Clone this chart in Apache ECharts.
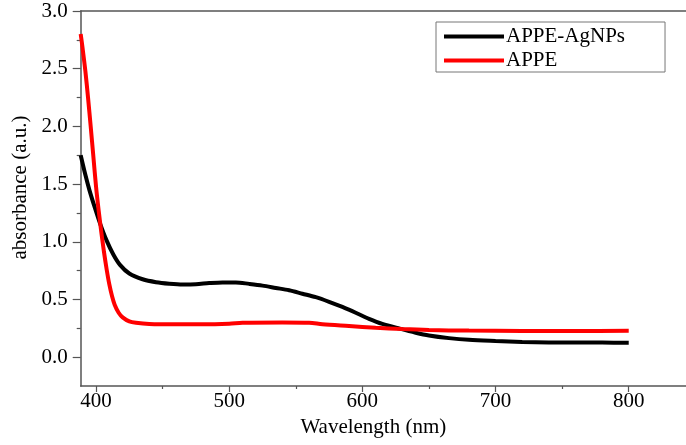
<!DOCTYPE html>
<html><head><meta charset="utf-8">
<script src="https://cdn.jsdelivr.net/npm/echarts@6/dist/echarts.min.js"></script>
<style>html,body{margin:0;padding:0;background:#fff}#c{width:686px;height:445px}</style>
</head><body><div id="c"></div>
<script>
// APPE-AgNPs (black)
const agWavelength = [388.5,392,395,399,403,408,413,418,425,435,445,455,465,475,485,495,505,515,525,535,545,555,565,575,585,595,605,615,628,640,650,665,680,700,720,740,760,780,800];
const agAbsorbance = [1.75,1.58,1.45,1.30,1.16,1.01,0.89,0.80,0.725,0.675,0.65,0.637,0.63,0.632,0.642,0.648,0.648,0.635,0.62,0.60,0.58,0.55,0.52,0.48,0.435,0.385,0.332,0.288,0.247,0.212,0.188,0.165,0.15,0.14,0.132,0.128,0.127,0.126,0.125];
// APPE (red)
const appeWavelength = [388.5,390,392,394,396,398,400,402,404,406,408,410,412,414,417,420,425,430,440,460,480,500,510,540,560,570,590,610,630,650,680,720,760,800];
const appeAbsorbance = [2.80,2.67,2.48,2.25,2.00,1.74,1.48,1.27,1.08,0.91,0.76,0.63,0.53,0.455,0.385,0.345,0.31,0.298,0.288,0.285,0.285,0.29,0.298,0.30,0.298,0.285,0.27,0.255,0.243,0.235,0.23,0.227,0.227,0.228];

const xTickLabels = [400,500,600,700,800];
const xMinorTicks = [450,550,650,750];
const yTickLabels = [0,0.5,1.0,1.5,2.0,2.5,3.0];
const yMinorTicks = [0.25,0.75,1.25,1.75,2.25,2.75];
const seriesNames = ['APPE-AgNPs','APPE'];

const FONT = "'Liberation Serif','Times New Roman',serif";
const XMIN = 388.5, XMAX = 843, YMIN = -0.25, YMAX = 3.0;
const axisColor = '#555';

const chart = echarts.init(document.getElementById('c'), null, {renderer:'canvas'});
chart.setOption({
  animation:false,
  backgroundColor:'#fff',
  grid:{left:80.7, top:11, right:0, bottom:59, containLabel:false},
  legend:{
    orient:'vertical', left:436, top:22,
    padding:[4,40,1,8], itemGap:3,
    borderColor:'#777', borderWidth:1,
    itemWidth:60, itemHeight:4, icon:'rect',
    textStyle:{fontFamily:FONT, fontSize:21, color:'#000', padding:[0,0,0,-3]},
    data:seriesNames
  },
  xAxis:[
    {type:'value', min:XMIN, max:XMAX, position:'bottom',
     name:'Wavelength (nm)', nameLocation:'middle', nameGap:24,
     nameTextStyle:{fontFamily:FONT, fontSize:21, color:'#000', padding:[0,20,0,0]},
     axisLine:{show:true, onZero:false, lineStyle:{color:axisColor, width:1.5}},
     axisTick:{show:true, inside:false, length:6, customValues:xTickLabels, lineStyle:{color:axisColor, width:1.2}},
     axisLabel:{show:true, customValues:xTickLabels, margin:5, fontFamily:FONT, fontSize:21, color:'#000', formatter:v=>String(v)},
     splitLine:{show:false}},
    {type:'value', min:XMIN, max:XMAX, position:'bottom',
     axisLine:{show:false, onZero:false},
     axisTick:{show:true, inside:false, length:3, customValues:xMinorTicks, lineStyle:{color:axisColor, width:1.2}},
     axisLabel:{show:false}, splitLine:{show:false}},
    {type:'value', min:XMIN, max:XMAX, position:'top',
     axisLine:{show:true, onZero:false, lineStyle:{color:axisColor, width:1.5}},
     axisTick:{show:false}, axisLabel:{show:false}, splitLine:{show:false}}
  ],
  yAxis:[
    {type:'value', min:YMIN, max:YMAX, position:'left',
     name:'absorbance (a.u.)', nameLocation:'middle', nameGap:48,
     nameTextStyle:{fontFamily:FONT, fontSize:21, color:'#000', padding:[0,0,0,22]},
     axisLine:{show:true, onZero:false, lineStyle:{color:axisColor, width:1.5}},
     axisTick:{show:true, inside:false, length:8, customValues:yTickLabels, lineStyle:{color:axisColor, width:1.2}},
     axisLabel:{show:true, customValues:yTickLabels, margin:13, fontFamily:FONT, fontSize:21, color:'#000', formatter:v=>v.toFixed(1)},
     splitLine:{show:false}},
    {type:'value', min:YMIN, max:YMAX, position:'left',
     axisLine:{show:false, onZero:false},
     axisTick:{show:true, inside:false, length:4, customValues:yMinorTicks, lineStyle:{color:axisColor, width:1.2}},
     axisLabel:{show:false}, splitLine:{show:false}}
  ],
  series:[
    {name:seriesNames[0], type:'line', xAxisIndex:0, yAxisIndex:0,
     data:agWavelength.map((x,i)=>[x,agAbsorbance[i]]),
     showSymbol:false, smooth:0.3,
     itemStyle:{color:'#000'}, lineStyle:{color:'#000', width:4}},
    {name:seriesNames[1], type:'line', xAxisIndex:0, yAxisIndex:0,
     data:appeWavelength.map((x,i)=>[x,appeAbsorbance[i]]),
     showSymbol:false, smooth:0.3,
     itemStyle:{color:'#ff0000'}, lineStyle:{color:'#ff0000', width:4}}
  ]
});
</script></body></html>
